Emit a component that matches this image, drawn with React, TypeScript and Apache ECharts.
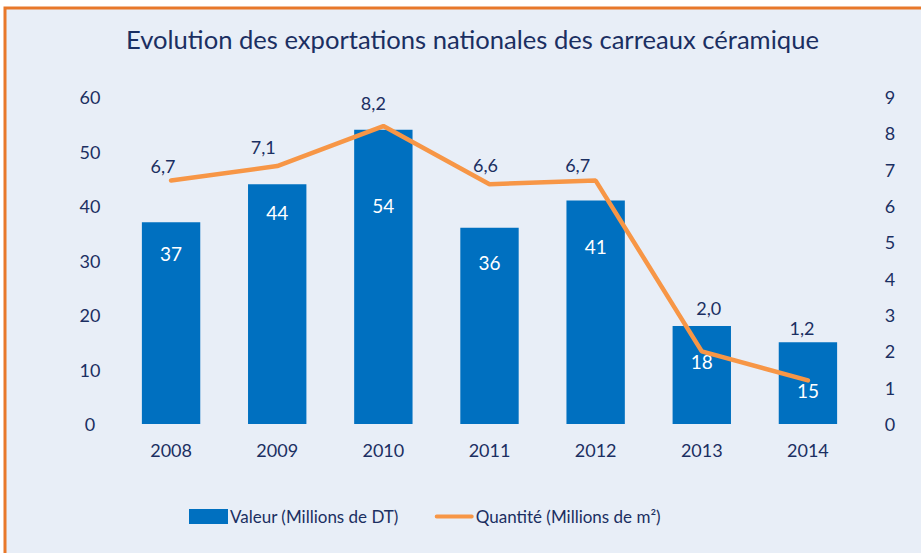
import React, { useEffect, useRef } from "react";
import * as echarts from "echarts";

const years = ["2008", "2009", "2010", "2011", "2012", "2013", "2014"];
const valeur = [37, 44, 54, 36, 41, 18, 15];
const quantite = [6.7, 7.1, 8.2, 6.6, 6.7, 2.0, 1.2];

// label placement tweaks (pixels), mirroring the reference's manual label positions
const barLabelDrop = [22, 19, 66, 25, 36, 26, 39];
const lineLabelLift = [6, 10, 14, 10, 7, 34, 43];
const lineLabelShift = [-8, -14, -10, -4, -18, 7, -6];

const NAVY = "#1b2f62";
const FONT = "Lato";

export default function App() {
  const ref = useRef<HTMLDivElement>(null);
  useEffect(() => {
    const chart = echarts.init(ref.current!, undefined, { renderer: "svg" });
    chart.setOption({
      animation: false,
      backgroundColor: "#ffffff",
      textStyle: { fontFamily: FONT, color: NAVY },
      graphic: [
        {
          type: "rect",
          z: -10,
          shape: { x: 5, y: 8, width: 940, height: 570 },
          style: { fill: "#e8eef7", stroke: "#e8782a", lineWidth: 3 },
          silent: true,
        },
      ],
      title: {
        text: "Evolution des exportations nationales des carreaux céramique",
        left: 121,
        top: 21,
        textStyle: { fontFamily: FONT, fontSize: 25.6, fontWeight: "normal", color: NAVY },
      },
      legend: {
        left: 184,
        top: 503,
        itemGap: 36,
        itemWidth: 39,
        itemHeight: 15,
        textStyle: { fontFamily: FONT, fontSize: 17, color: NAVY, padding: [0, 0, 0, -3] },
        data: [
          { name: "Valeur (Millions de DT)", icon: "rect" },
          {
            name: "Quantité (Millions de m²)",
            icon: "path://M2,0H38A2,2 0 0 1 38,4H2A2,2 0 0 1 2,0Z",
          },
        ],
      },
      grid: { left: 118, right: 60, top: 97, bottom: 129 },
      xAxis: {
        type: "category",
        data: years,
        axisLine: { show: false },
        axisTick: { show: false },
        axisLabel: { fontFamily: FONT, fontSize: 18, color: NAVY, margin: 17 },
      },
      yAxis: [
        {
          type: "value",
          min: 0,
          max: 60,
          interval: 10,
          splitLine: { show: false },
          axisLine: { show: false },
          axisTick: { show: false },
          axisLabel: { fontFamily: FONT, fontSize: 18, color: NAVY, align: "center", margin: 28 },
        },
        {
          type: "value",
          min: 0,
          max: 9,
          interval: 1,
          position: "right",
          splitLine: { show: false },
          axisLine: { show: false },
          axisTick: { show: false },
          axisLabel: { fontFamily: FONT, fontSize: 18, color: NAVY, align: "center", margin: 29 },
        },
      ],
      series: [
        {
          name: "Valeur (Millions de DT)",
          type: "bar",
          barWidth: "55%",
          itemStyle: { color: "#0070c0" },
          data: valeur.map((v, i) => ({
            value: v,
            label: { distance: barLabelDrop[i] },
          })),
          label: {
            show: true,
            position: "insideTop",
            color: "#ffffff",
            fontFamily: FONT,
            fontSize: 19,
          },
        },
        {
          name: "Quantité (Millions de m²)",
          type: "line",
          yAxisIndex: 1,
          symbol: "circle",
          symbolSize: 0.01,
          showSymbol: true,
          lineStyle: { color: "#f79646", width: 4.5, cap: "round" },
          itemStyle: { color: "#f79646" },
          data: quantite.map((v, i) => ({
            value: v,
            label: { distance: lineLabelLift[i], offset: [lineLabelShift[i], 0] },
          })),
          label: {
            show: true,
            position: "top",
            color: NAVY,
            fontFamily: FONT,
            fontSize: 18,
            formatter: (p: any) => Number(p.value).toFixed(1).replace(".", ","),
          },
        },
      ],
    });
    return () => chart.dispose();
  }, []);
  return (
    <div
      ref={ref}
      style={{ position: "absolute", left: 0, top: 0, width: 921, height: 553 }}
    />
  );
}
